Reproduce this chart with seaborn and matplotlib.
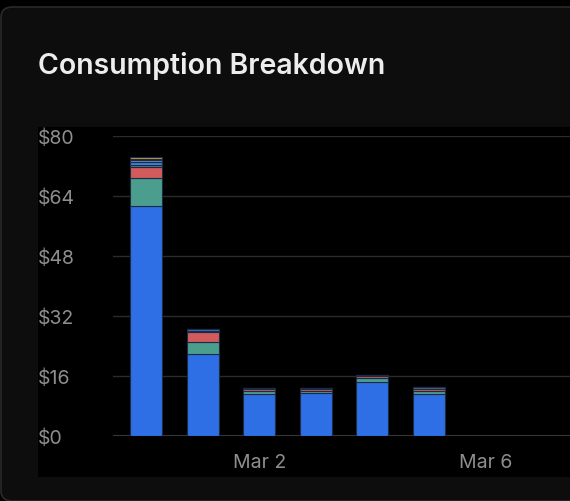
import matplotlib
matplotlib.use("Agg")
import matplotlib.pyplot as plt
from matplotlib.patches import FancyBboxPatch, Rectangle
import numpy as np
import pandas as pd
import seaborn as sns

# data, bottom segment first
days = ["2025-02-28", "2025-03-01", "2025-03-02", "2025-03-03", "2025-03-04", "2025-03-05"]
categories = ["Compute", "Storage", "Network", "Logs", "Functions", "Builds", "Analytics", "Other"]
compute = [61.4, 21.9, 11.2, 11.4, 14.3, 11.2]
storage = [7.3, 3.3, 0.8, 0.6, 1.2, 0.9]
network = [3.1, 2.5, 0.5, 0.5, 0.5, 0.5]
logs = [0.5, 0.3, 0.3, 0.3, 0.2, 0.4]
functions = [0.65, 0.5, 0.0, 0.0, 0.0, 0.0]
builds = [0.6, 0.0, 0.0, 0.0, 0.0, 0.0]
analytics = [0.45, 0.0, 0.0, 0.0, 0.0, 0.0]
other = [0.45, 0.0, 0.0, 0.0, 0.0, 0.0]
colors = ["#2f6fe6", "#4b9e8d", "#d35b5b", "#6a6f78", "#3a82e0", "#6c8fb0", "#7f9a3c", "#c99a2e"]
tick_dates = ["2025-03-02", "2025-03-06"]
yticks = [0, 16, 32, 48, 64, 80]

start = pd.Timestamp(days[0])
series = [compute, storage, network, logs, functions, builds, analytics, other]
rows = []
for cat, vals in zip(categories, series):
    for d, v in zip(days, vals):
        rows.append({"day": (pd.Timestamp(d) - start).days, "category": cat, "cost": v})
df = pd.DataFrame(rows)

W, H = 570, 502
fig = plt.figure(figsize=(W / 100, H / 100), dpi=100, facecolor="#000000")

# card + dark plot panel
fig.patches.append(FancyBboxPatch((1 / W, 1 - 502 / H), 620 / W, 494 / H,
                                  boxstyle="round,pad=0,rounding_size=0.02",
                                  transform=fig.transFigure, facecolor="#0d0d0d",
                                  edgecolor="#2a2a2a", linewidth=1.2, zorder=0))
fig.patches.append(Rectangle((38 / W, 1 - 478 / H), 540 / W, 350 / H,
                             transform=fig.transFigure, facecolor="#000000",
                             edgecolor="none", zorder=1))

fig.text(38 / W, 1 - 66 / H, "Consumption Breakdown", color="#ededed",
         fontsize=20.5, fontweight="semibold", family="Inter", va="center", ha="left")

ax = fig.add_axes([113 / W, 1 - 437 / H, 1 - 113 / W, 300 / H])
ax.set_facecolor("none")
ax.set_zorder(2)

sns.histplot(data=df, x="day", weights="cost", hue="category",
             hue_order=categories[::-1], palette=dict(zip(categories, colors)),
             multiple="stack", discrete=True, shrink=0.565, alpha=1,
             edgecolor="#1c2b45", linewidth=0.8, legend=False, ax=ax)

ax.set_ylim(0, 80)
ax.set_xlim(-0.583, 7.49)
ax.set_yticks(yticks)
ax.set_yticklabels([f"${v}" for v in yticks])
xt = [(pd.Timestamp(d) - start).days for d in tick_dates]
ax.set_xticks(xt)
ax.set_xticklabels([pd.Timestamp(d).strftime("%b %-d") for d in tick_dates])
ax.grid(axis="y", color="#2b2b2b", linewidth=1)
ax.grid(axis="x", visible=False)
ax.set_axisbelow(True)
ax.axhline(0, color="#3a3a3a", linewidth=1.5, zorder=0.5)
for s in ax.spines.values():
    s.set_visible(False)
ax.tick_params(axis="y", length=0, pad=54, labelsize=14, labelcolor="#8e8e8e")
ax.tick_params(axis="x", length=0, pad=12, labelsize=14, labelcolor="#8e8e8e")
for lab in ax.get_yticklabels():
    lab.set_horizontalalignment("left")
    lab.set_family("Inter")
for lab in ax.get_xticklabels():
    lab.set_family("Inter")
ax.set_xlabel("")
ax.set_ylabel("")

fig.savefig("out.png", dpi=100, facecolor=fig.get_facecolor())
